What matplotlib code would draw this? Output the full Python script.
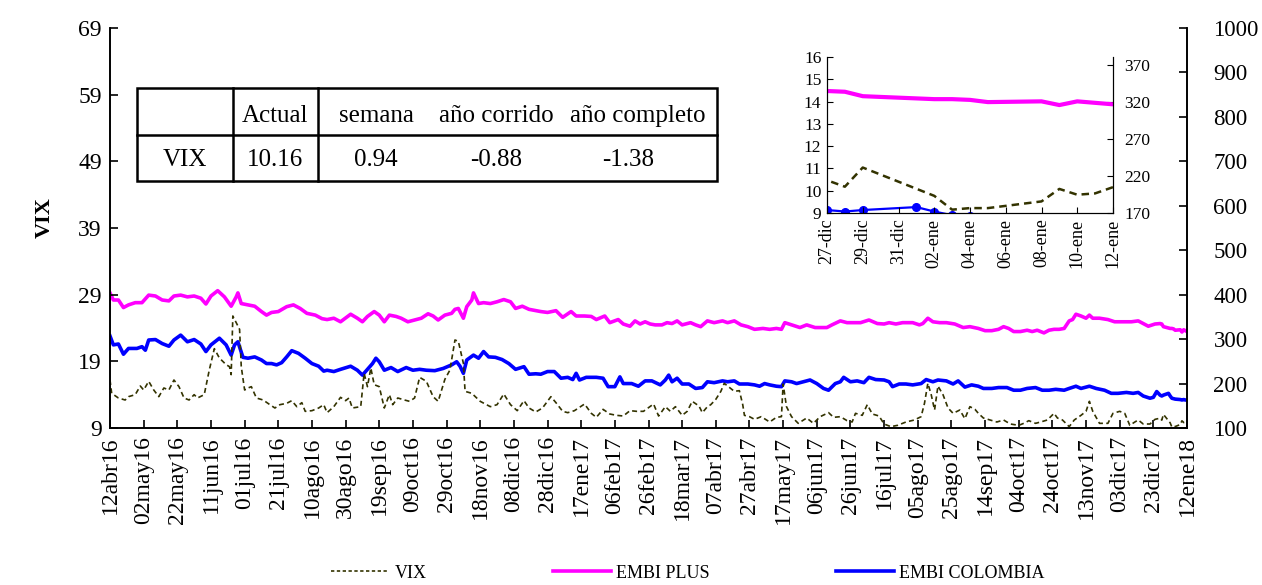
import numpy as np
import matplotlib
matplotlib.use('Agg')
import matplotlib.pyplot as plt
from matplotlib.lines import Line2D

plt.rcParams['font.family'] = ['Liberation Serif', 'DejaVu Serif']

# ---------------- DATA ----------------
inicio = np.datetime64('2016-04-12')
fin = np.datetime64('2018-01-12')
meses = ['ene', 'feb', 'mar', 'abr', 'may', 'jun', 'jul', 'ago', 'sep', 'oct', 'nov', 'dic']

# days since 12abr16
plus_dias = [0, 2, 5, 8, 11, 15, 19, 23, 27, 31,
             35, 38, 42, 46, 50, 54, 57, 60, 64, 68,
             72, 75, 76, 78, 82, 86, 90, 93, 96, 100,
             105, 109, 113, 117, 122, 126, 129, 133, 137, 143,
             147, 150, 153, 157, 160, 163, 166, 170, 173, 177,
             181, 185, 189, 192, 195, 199, 203, 205, 207, 209,
             210, 212, 215, 216, 219, 222, 226, 230, 234, 238,
             241, 245, 249, 253, 256, 260, 265, 269, 274, 277,
             282, 286, 289, 294, 297, 302, 305, 309, 312, 315,
             318, 321, 324, 328, 331, 334, 337, 340, 345, 348,
             351, 355, 359, 364, 367, 371, 375, 379, 383, 388,
             392, 396, 399, 401, 405, 410, 414, 419, 426, 429,
             434, 438, 442, 446, 451, 456, 460, 463, 467, 471,
             477, 481, 483, 486, 489, 493, 497, 502, 507, 511,
             516, 520, 524, 528, 531, 534, 537, 541, 545, 548,
             551, 555, 558, 561, 564, 567, 570, 572, 574, 577,
             580, 582, 584, 588, 593, 597, 602, 607, 611, 614,
             617, 621, 624, 625, 626, 630, 631, 632, 633, 636,
             637, 638, 639, 640]
plus_vals = [404, 388, 388, 371, 377, 382, 382, 399, 397, 388,
             386, 397, 399, 395, 397, 392, 379, 397, 409, 395,
             374, 395, 404, 380, 377, 374, 362, 354, 360, 362,
             373, 377, 369, 358, 354, 346, 344, 347, 339, 356,
             347, 339, 351, 362, 354, 339, 354, 351, 347, 339,
             343, 347, 357, 352, 343, 354, 358, 367, 369, 354,
             347, 373, 388, 404, 380, 382, 380, 384, 389, 384,
             369, 374, 367, 364, 362, 360, 364, 349, 362, 352,
             352, 351, 344, 352, 337, 344, 334, 329, 341, 334,
             339, 334, 332, 332, 337, 335, 341, 332, 337, 332,
             328, 341, 337, 341, 337, 341, 332, 328, 322, 324,
             322, 324, 322, 337, 332, 326, 332, 326, 326, 332,
             341, 337, 337, 337, 343, 335, 334, 337, 334, 337,
             337, 332, 335, 347, 339, 337, 337, 334, 326, 328,
             324, 319, 319, 322, 328, 324, 317, 317, 320, 317,
             320, 314, 320, 322, 322, 324, 341, 344, 356, 352,
             347, 354, 347, 347, 344, 339, 339, 339, 341, 335,
             329, 334, 335, 334, 328, 324, 324, 323, 320, 321,
             316, 321, 319, 317]

col_dias = [0, 2, 5, 8, 11, 16, 19, 21, 23, 27,
            31, 35, 38, 42, 46, 50, 54, 57, 60, 65,
            69, 72, 74, 76, 79, 82, 86, 90, 93, 96,
            99, 102, 105, 108, 112, 116, 120, 124, 127, 129,
            133, 137, 143, 147, 150, 153, 156, 158, 160, 163,
            167, 171, 176, 180, 184, 188, 193, 198, 203, 206,
            208, 210, 212, 216, 219, 222, 225, 229, 233, 237,
            241, 246, 249, 253, 256, 260, 264, 268, 272, 275,
            277, 279, 283, 289, 293, 296, 300, 303, 305, 310,
            314, 318, 322, 327, 330, 332, 334, 337, 340, 344,
            348, 352, 355, 359, 364, 367, 371, 374, 379, 383,
            386, 389, 392, 396, 399, 401, 405, 408, 412, 416,
            420, 424, 427, 431, 434, 436, 440, 444, 448, 451,
            455, 460, 463, 465, 469, 473, 477, 482, 485, 489,
            492, 497, 501, 504, 508, 512, 516, 519, 524, 528,
            533, 537, 541, 545, 550, 554, 558, 562, 567, 570,
            574, 577, 582, 586, 591, 595, 599, 604, 608, 611,
            614, 618, 620, 622, 624, 625, 626, 629, 630, 631,
            632, 633, 636, 637, 638, 639, 640]
col_vals = [307, 287, 289, 266, 279, 279, 283, 275, 298, 299,
            290, 284, 298, 309, 294, 299, 289, 272, 287, 302,
            287, 264, 287, 294, 259, 257, 260, 253, 245, 245,
            242, 247, 260, 274, 268, 257, 245, 239, 228, 230,
            227, 232, 239, 230, 219, 232, 245, 257, 249, 230,
            236, 227, 236, 230, 232, 230, 229, 234, 242, 249,
            239, 223, 253, 264, 257, 272, 260, 259, 254, 245,
            232, 238, 221, 222, 221, 227, 227, 212, 214, 209,
            223, 208, 214, 214, 212, 193, 193, 215, 200, 200,
            194, 206, 206, 197, 208, 219, 204, 212, 199, 199,
            189, 191, 204, 202, 206, 204, 206, 199, 199, 197,
            194, 200, 197, 194, 193, 206, 204, 200, 204, 208,
            200, 189, 185, 200, 204, 214, 204, 206, 202, 214,
            209, 208, 204, 193, 199, 199, 197, 200, 209, 204,
            208, 206, 199, 206, 192, 197, 194, 189, 189, 191,
            191, 185, 185, 189, 191, 185, 185, 187, 185, 189,
            194, 189, 194, 189, 185, 178, 178, 180, 178, 180,
            172, 167, 169, 182, 174, 172, 174, 178, 172, 167,
            166, 165, 164, 163, 164, 163, 163]

vix_dias = [0, 1, 5, 9, 11, 15, 18, 20, 23, 26,
            29, 32, 35, 38, 41, 44, 47, 50, 52, 56,
            59, 62, 65, 69, 71, 72, 73, 75, 77, 78,
            80, 82, 84, 87, 91, 95, 98, 101, 105, 108,
            111, 114, 116, 120, 124, 127, 129, 133, 137, 140,
            142, 144, 149, 151, 153, 155, 157, 160, 163, 166,
            168, 171, 175, 178, 181, 184, 188, 192, 195, 199,
            202, 205, 207, 210, 211, 215, 220, 226, 230, 234,
            238, 242, 246, 249, 253, 257, 262, 265, 269, 272,
            276, 282, 286, 289, 293, 297, 301, 305, 309, 313,
            317, 323, 326, 330, 333, 336, 340, 343, 346, 350,
            352, 355, 357, 360, 363, 365, 368, 371, 374, 376,
            377, 380, 383, 387, 392, 396, 399, 400, 402, 405,
            409, 414, 418, 422, 427, 430, 434, 438, 441, 443,
            447, 450, 453, 457, 460, 464, 468, 473, 478, 482,
            484, 486, 488, 490, 492, 495, 498, 501, 505, 508,
            511, 514, 516, 519, 523, 527, 531, 535, 540, 543,
            546, 550, 553, 557, 561, 563, 566, 570, 573, 577,
            580, 582, 584, 588, 593, 596, 600, 603, 606, 609,
            611, 614, 618, 621, 624, 625, 626, 630, 631, 632,
            633, 636, 637, 638, 639, 640]
vix_vals = [16.2, 14.2, 13.5, 13.2, 13.7, 14.0, 15.3, 14.7, 16.0, 14.7,
            13.7, 15.0, 14.7, 16.2, 15.2, 13.5, 13.2, 14.0, 13.5, 14.0,
            17.7, 20.9, 19.5, 18.5, 18.2, 17.0, 25.8, 24.8, 23.8, 18.2,
            14.7, 15.0, 15.2, 13.5, 13.2, 12.5, 12.0, 12.5, 12.7, 13.1,
            12.2, 12.8, 11.5, 11.6, 12.0, 12.5, 11.3, 12.2, 13.6, 13.1,
            13.5, 12.0, 12.2, 17.2, 15.2, 18.0, 15.5, 15.2, 12.0, 14.0,
            12.5, 13.5, 13.2, 13.0, 13.5, 16.6, 16.0, 13.7, 13.0, 16.3,
            17.7, 22.2, 22.0, 18.7, 14.5, 14.2, 13.0, 12.2, 12.5, 14.1,
            12.5, 11.6, 13.1, 12.0, 11.4, 12.0, 13.7, 12.8, 11.5, 11.3,
            11.6, 12.6, 11.2, 10.6, 11.8, 11.1, 10.9, 10.8, 11.6, 11.5,
            11.5, 12.6, 10.8, 12.2, 11.5, 12.2, 10.9, 11.5, 13.0, 12.3,
            11.3, 12.2, 12.5, 13.3, 14.5, 15.7, 15.1, 14.5, 14.6, 12.5,
            10.9, 10.7, 10.3, 10.7, 9.9, 10.6, 10.7, 15.6, 12.2, 10.7,
            9.7, 10.5, 9.7, 10.7, 11.3, 10.6, 10.7, 10.1, 9.9, 11.2,
            10.9, 12.5, 11.1, 10.8, 9.6, 9.2, 9.4, 9.9, 10.2, 10.7,
            12.7, 15.7, 14.0, 11.7, 15.3, 14.0, 12.0, 11.2, 11.7, 10.4,
            12.2, 11.8, 11.2, 10.5, 10.2, 9.9, 10.2, 9.6, 9.4, 9.7,
            10.1, 9.7, 9.9, 10.2, 11.2, 10.5, 10.2, 9.2, 10.2, 10.9,
            11.5, 13.0, 11.5, 9.7, 9.7, 11.2, 11.5, 11.2, 9.4, 9.9,
            10.2, 9.6, 9.6, 10.3, 10.47, 10.18, 11.04, 9.77, 9.15, 9.22,
            9.22, 9.52, 10.08, 9.82, 9.88, 10.16]

tabla_columnas = ['', 'Actual', 'semana', 'año corrido', 'año completo']
tabla_fila = ['VIX', '10.16', '0.94', '-0.88', '-1.38']

series_nombres = ['VIX', 'EMBI PLUS', 'EMBI COLOMBIA']
color_vix = '#333300'
color_plus = '#FF00FF'
color_col = '#0000FF'

inset_inicio = np.datetime64('2017-12-27')
inset_fin = np.datetime64('2018-01-12')

# ---------------- FIGURE ----------------
W, H = 1262, 585
fig = plt.figure(figsize=(W / 100, H / 100), dpi=100)


def fx(x):
    return x / W


def fy(y):
    return 1 - y / H


def to_dates(d):
    return inicio + np.array(d, dtype='timedelta64[D]')


x_plus = to_dates(plus_dias)
x_col = to_dates(col_dias)
x_vix = to_dates(vix_dias)

ax = fig.add_axes([fx(110), fy(428), fx(1187) - fx(110), fy(28) - fy(428)])
ax2 = ax.twinx()
ax.set_zorder(ax2.get_zorder() + 1)
ax.patch.set_visible(False)

ax2.plot(x_plus, plus_vals, color=color_plus, lw=2.6, solid_joinstyle='round')
ax2.plot(x_col, col_vals, color=color_col, lw=2.6, solid_joinstyle='round')
ax.plot(x_vix, vix_vals, color=color_vix, lw=1.2, ls=(0, (3, 2)))

ax.set_xlim(inicio, fin)
ticks = inicio + np.arange(0, 641, 20).astype('timedelta64[D]')
labels = []
for t in ticks:
    d = t.astype(object)
    labels.append(f"{d.day:02d}{meses[d.month - 1]}{d.year % 100:02d}")
ax.set_xticks(ticks)
ax.set_xticklabels(labels, rotation=90, fontsize=17)

ax.set_ylim(9, 69)
ax.set_yticks(np.arange(9, 70, 10))
ax2.set_ylim(100, 1000)
ax2.set_yticks(np.arange(100, 1001, 100))

ax.tick_params(axis='x', direction='in', length=6, width=1.2, pad=6)
ax.tick_params(axis='y', direction='in', length=6, width=1.2, labelsize=17, pad=6)
ax2.tick_params(axis='y', direction='in', length=6, width=1.2, labelsize=16.5, pad=19)
for a in (ax, ax2):
    a.spines['top'].set_visible(False)
    for s in ('left', 'right', 'bottom'):
        a.spines[s].set_linewidth(1.2)

fig.text(fx(45), fy(218), 'VIX', rotation=90, fontsize=16, fontweight='bold',
         ha='center', va='center')

# legend
handles = [Line2D([], [], color=color_vix, lw=1.2, ls=(0, (2, 1.5))),
           Line2D([], [], color=color_plus, lw=2.6),
           Line2D([], [], color=color_col, lw=2.6)]
fig.legend(handles, series_nombres, loc='center', bbox_to_anchor=(fx(688), fy(573)),
           ncol=3, frameon=False, fontsize=13, handlelength=3.2, handletextpad=0.3,
           columnspacing=7.0)

# table
tl, tr, tt, tb, tm = 137, 717, 88, 181, 135
lw_t = 1.8
fig.add_artist(plt.Rectangle((fx(tl), fy(tb)), fx(tr) - fx(tl), fy(tt) - fy(tb),
                             transform=fig.transFigure, fill=False, lw=lw_t, color='black'))
fig.add_artist(Line2D([fx(tl), fx(tr)], [fy(tm), fy(tm)], transform=fig.transFigure,
                      color='black', lw=lw_t))
for xv in (233, 318):
    fig.add_artist(Line2D([fx(xv), fx(xv)], [fy(tt), fy(tb)], transform=fig.transFigure,
                          color='black', lw=lw_t))
col_centros_h = [185, 275, 376, 496, 638]
col_centros_v = [185, 275, 376, 496, 628]
for txt, cx in zip(tabla_columnas, col_centros_h):
    fig.text(fx(cx), fy(116), txt, fontsize=18, ha='center', va='center')
for txt, cx in zip(tabla_fila, col_centros_v):
    fig.text(fx(cx), fy(160), txt, fontsize=18, ha='center', va='center')

# inset
axi = fig.add_axes([fx(827), fy(213), fx(1113) - fx(827), fy(57) - fy(213)])
axi2 = axi.twinx()
axi.set_zorder(axi2.get_zorder() + 1)
axi.patch.set_visible(False)
axi2.patch.set_facecolor('white')

axi2.plot(x_plus, plus_vals, color=color_plus, lw=3.0)
axi2.plot(x_col, col_vals, color=color_col, lw=1.6, marker='o', ms=5.5)
axi.plot(x_vix, vix_vals, color=color_vix, lw=1.8, ls=(0, (3, 2)))

axi.set_xlim(inset_inicio, inset_fin)
iticks = inset_inicio + np.arange(0, 17, 2).astype('timedelta64[D]')
ilabels = []
for t in iticks:
    d = t.astype(object)
    ilabels.append(f"{d.day:02d}-{meses[d.month - 1]}")
axi.set_xticks(iticks)
axi.set_xticklabels(ilabels, rotation=90, fontsize=13)
axi.set_ylim(9, 16)
axi.set_yticks(np.arange(9, 17, 1))
axi2.set_ylim(170, 381)
axi2.set_yticks(np.arange(170, 371, 50))
axi.tick_params(axis='x', direction='in', length=4, pad=4)
axi.tick_params(axis='y', direction='in', length=4, labelsize=12.5, pad=4)
axi2.tick_params(axis='y', direction='in', length=4, labelsize=12.5, pad=8)
for a in (axi, axi2):
    a.spines['top'].set_visible(False)

fig.savefig('out.png', dpi=100)
